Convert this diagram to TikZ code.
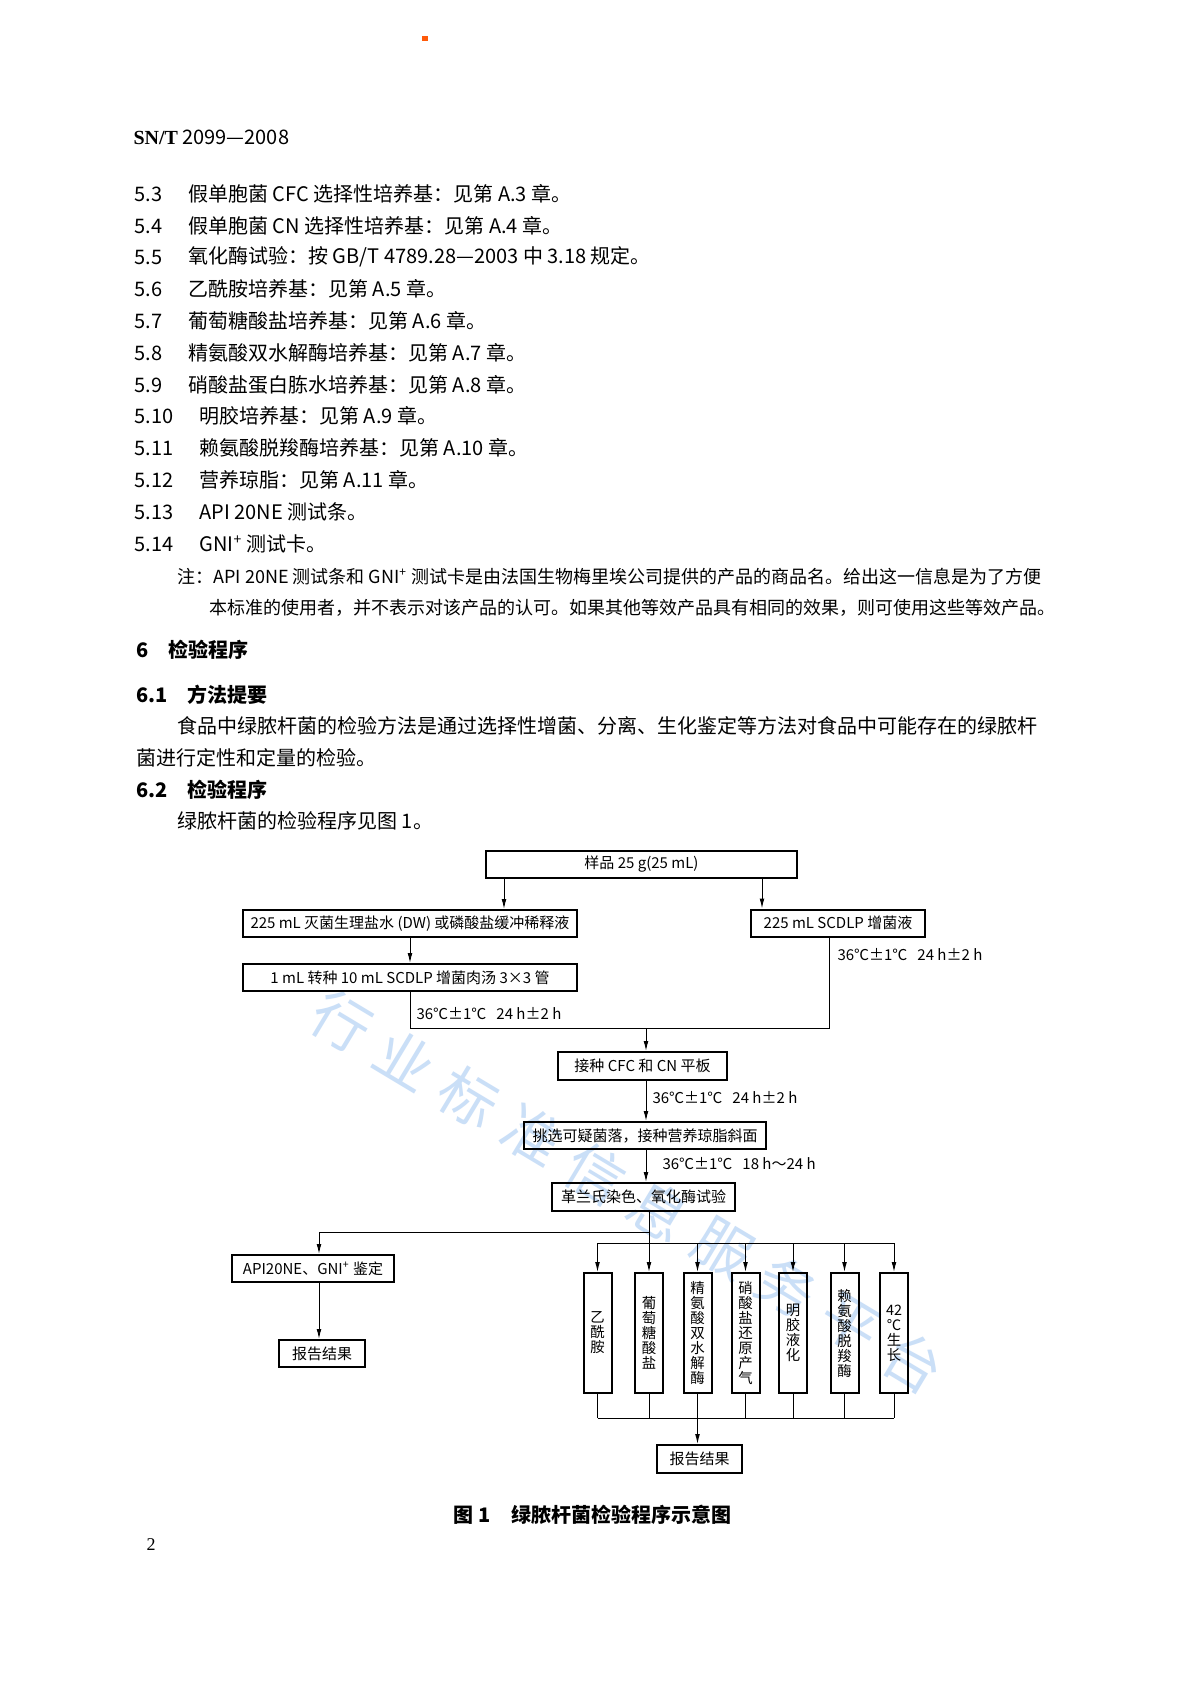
\documentclass[tikz,border=0pt]{standalone}
\usepackage{fontspec}
\setmainfont{Noto Sans CJK SC}
\newfontfamily\latserif{Liberation Serif}
\usetikzlibrary{arrows.meta,positioning,calc}
\definecolor{wmblue}{HTML}{A8CAF2}
\definecolor{dotorange}{HTML}{FF5A0A}

\begin{document}
\begin{tikzpicture}[x=0.5pt,y=-0.5pt,line width=.5pt,
  txt/.style={anchor=west,inner sep=0pt,font=\fontsize{10}{12}\selectfont},
  note/.style={txt,font=\fontsize{9}{11}\selectfont},
  head/.style={txt,font=\fontsize{10}{12}\selectfont\bfseries},
  fbox/.style={draw,line width=1pt,inner sep=0pt,minimum height=13.5pt,font=\fontsize{7.5}{9}\selectfont},
  tbox/.style={draw,line width=1pt,inner sep=0pt,minimum width=14pt,minimum height=60pt,align=center,font=\fontsize{7.2}{7.5}\selectfont},
  cond/.style={anchor=west,inner sep=0pt,font=\fontsize{7.5}{9}\selectfont},
  link/.style={line width=.5pt},
  arr/.style={link,-{Latex[length=5pt,width=2.4pt]}},
  wm/.style={text=wmblue,opacity=.6,font=\fontsize{29}{29}\selectfont,rotate=-31,inner sep=0pt}]
\fill[white] (0,0) rectangle (1190,1683);
\useasboundingbox (0,0) rectangle (1190,1683);

% watermark
\foreach \ch [count=\k from 0] in {行,业,标,准,信,息,服,务,平,台}
  \node[wm] (wm\k) at ({342+\k*63.5},{1022+\k*37.8}) {\ch};

\fill[dotorange] (422,36) rectangle (428,41);
\node[txt] (hdr) at (133,137) {{\latserif\bfseries SN/T} 2099—2008};

% section 5
\foreach \y/\n/\x/\t [count=\k] in {
  194/5.3/188/{假单胞菌 CFC 选择性培养基：见第 A.3 章。},
  226/5.4/188/{假单胞菌 CN 选择性培养基：见第 A.4 章。},
  257/5.5/188/{氧化酶试验：按 GB/T 4789.28—2003 中 3.18 规定。},
  289/5.6/188/{乙酰胺培养基：见第 A.5 章。},
  321/5.7/188/{葡萄糖酸盐培养基：见第 A.6 章。},
  353/5.8/188/{精氨酸双水解酶培养基：见第 A.7 章。},
  385/5.9/188/{硝酸盐蛋白胨水培养基：见第 A.8 章。},
  416/5.10/199/{明胶培养基：见第 A.9 章。},
  448/5.11/199/{赖氨酸脱羧酶培养基：见第 A.10 章。},
  480/5.12/199/{营养琼脂：见第 A.11 章。},
  512/5.13/199/{API 20NE 测试条。},
  544/5.14/199/{GNI\textsuperscript{+} 测试卡。}} {
  \node[txt] (num\k) at (134,\y) {\n};
  \node[txt] (item\k) at (\x,\y) {\t};
}
\node[note] (nt1) at (177,577) {注：API 20NE 测试条和 GNI\textsuperscript{+} 测试卡是由法国生物梅里埃公司提供的产品的商品名。给出这一信息是为了方便};
\node[note] (nt2) at (209,608) {本标准的使用者，并不表示对该产品的认可。如果其他等效产品具有相同的效果，则可使用这些等效产品。};

% section 6
\node[head] (h6) at (136,650) {6};
\node[head] (h6t) at (168,650) {检验程序};
\node[head] (h61) at (136,695) {6.1};
\node[head] (h61t) at (187,695) {方法提要};
\node[txt] (p1) at (177,726) {食品中绿脓杆菌的检验方法是通过选择性增菌、分离、生化鉴定等方法对食品中可能存在的绿脓杆};
\node[txt] (p2) at (136,758) {菌进行定性和定量的检验。};
\node[head] (h62) at (136,790) {6.2};
\node[head] (h62t) at (187,790) {检验程序};
\node[txt] (p3) at (177,821) {绿脓杆菌的检验程序见图 1。};

% flow chart
\node[fbox,minimum width=155.5pt] (smp) at (641.5,864.5) {样品 25 g(25 mL)};
\node[fbox,minimum width=167pt] (dw) at (410,923.5) {225 mL 灭菌生理盐水 (DW) 或磷酸盐缓冲稀释液};
\node[fbox,minimum width=87pt] (scd) at (838,923) {225 mL SCDLP 增菌液};
\node[fbox,minimum width=167pt] (one) at (410,977.5) {1 mL 转种 10 mL SCDLP 增菌肉汤 3×3 管};
\node[fbox,minimum width=84.5pt,minimum height=14pt] (cfc) at (642.5,1066) {接种 CFC 和 CN 平板};
\node[fbox,minimum width=121pt] (pick) at (645,1135.5) {挑选可疑菌落，接种营养琼脂斜面};
\node[fbox,minimum width=91.5pt,minimum height=14pt] (gram) at (643.5,1197) {革兰氏染色、氧化酶试验};
\node[fbox,minimum width=81pt] (api) at (313,1268.5) {API20NE、GNI\textsuperscript{+} 鉴定};
\node[fbox,minimum width=43pt] (rep1) at (322,1353.5) {报告结果};
\foreach \x/\t [count=\k] in {597.5/{乙\\酰\\胺},649/{葡\\萄\\糖\\酸\\盐},
  697.5/{精\\氨\\酸\\双\\水\\解\\酶},745.5/{硝\\酸\\盐\\还\\原\\产\\气},
  793/{明\\胶\\液\\化},844.5/{赖\\氨\\酸\\脱\\羧\\酶},894/{42\\℃\\生\\长}}
  \node[tbox] (t\k) at (\x,1333) {\t};
\node[fbox,minimum width=42.5pt,minimum height=14pt] (rep2) at (699.5,1459) {报告结果};

\coordinate (xa) at (504,0);
\coordinate (xb) at (762,0);
\coordinate (jn) at (646,1028);
\coordinate (jr) at (829,1028);
\coordinate (ja) at (319,1232);
\coordinate (hb) at (0,1243);
\coordinate (hc) at (0,1418);

\draw[arr] (smp.south -| xa) -- (dw.north -| xa);
\draw[arr] (smp.south -| xb) -- (scd.north -| xb);
\draw[arr] (dw) -- (one);
\draw[link] (one.south) |- (jr) -- (scd.south -| jr);
\draw[arr] (jn) -- (cfc.north -| jn);
\draw[arr] (cfc.south -| jn) -- (pick.north -| jn);
\draw[arr] (pick.south -| jn) -- (gram.north -| jn);
\draw[link] (gram.south -| t2) -- (t2.north |- hb);
\draw[arr] (gram.south -| t2) |- (ja) -- (api.north -| ja);
\draw[arr] (api.south -| ja) -- (rep1.north -| ja);
\draw[link] (t1.north |- hb) -- (t7.north |- hb);
\foreach \k in {1,...,7} {
  \draw[arr] (t\k.north |- hb) -- (t\k.north);
  \draw[link] (t\k.south) -- (t\k.south |- hc);
}
\draw[link] (t1.south |- hc) -- (t7.south |- hc);
\draw[arr] (t3.south) -- (rep2.north -| t3.south);

\node[cond] (c1) at (416,1014) {36℃±1℃\hspace{5pt}24 h±2 h};
\node[cond] (c2) at (837,955) {36℃±1℃\hspace{5pt}24 h±2 h};
\node[cond] (c3) at (652,1098) {36℃±1℃\hspace{5pt}24 h±2 h};
\node[cond] (c4) at (662,1164) {36℃±1℃\hspace{5pt}18 h～24 h};

\node[head] (cap1) at (453,1515) {图 1};
\node[head] (cap2) at (511,1515) {绿脓杆菌检验程序示意图};
\node[txt,font=\latserif\fontsize{9}{11}\selectfont] (pg) at (146,1545) {2};
\end{tikzpicture}
\end{document}
